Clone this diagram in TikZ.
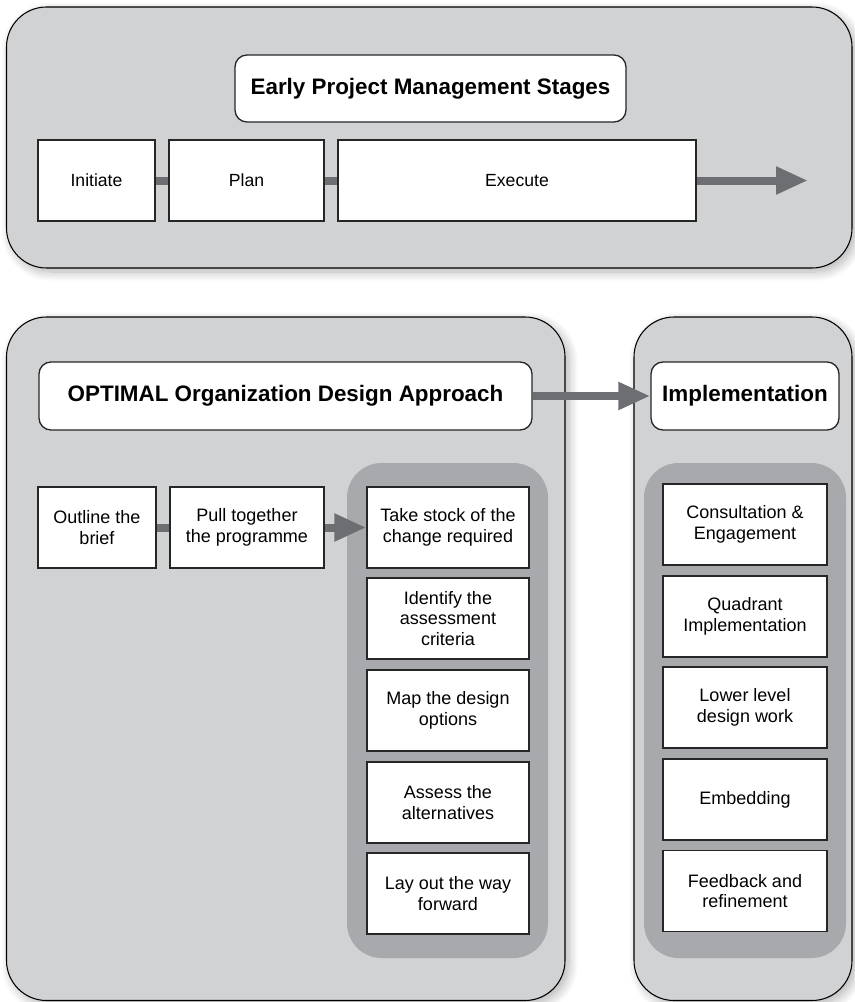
\documentclass[tikz,border=0pt]{standalone}
\usepackage{fontspec}
\setmainfont{Liberation Sans}
\usetikzlibrary{arrows.meta,shadows.blur}

\definecolor{panelgray}{HTML}{D1D2D4}
\definecolor{bandgray}{HTML}{A7A9AC}
\definecolor{flowgray}{HTML}{6D6E71}

\tikzset{
  panel/.style={fill=panelgray, draw=black, line width=0.8pt, rounded corners=30pt,
    blur shadow={shadow xshift=3pt, shadow yshift=-3pt, shadow blur radius=7pt,
      shadow blur steps=12, shadow opacity=30}},
  band/.style={fill=bandgray, rounded corners=26pt},
  plainbox/.style 2 args={draw=black!85, fill=white, line width=1pt,
    minimum width=#1*0.75pt, minimum height=#2*0.75pt, inner sep=0pt, align=center},
  titlebox/.style 2 args={plainbox={#1}{#2}, rounded corners=9pt,
    font=\bfseries\fontsize{16.8}{20}\selectfont},
  stagebox/.style 2 args={plainbox={#1}{#2}, font=\fontsize{13.2}{15.5}\selectfont},
  taskbox/.style 2 args={plainbox={#1}{#2}, font=\fontsize{13.5}{15.5}\selectfont},
  link/.style={draw=flowgray, line width=6pt},
  flow/.style={link, -{Triangle[length=24pt,width=19.5pt]}},
}

\begin{document}
\begin{tikzpicture}[x=0.75pt,y=-0.75pt]
\useasboundingbox (0,0) rectangle (854,1002);

% Project management stages
\path[panel] (6.5,7) rectangle (852,268);
\node[titlebox={391}{67}] (early) at (430.5,88.5) {Early Project Management Stages};
\node[stagebox={117}{81}] (init) at (96.5,180.5) {Initiate};
\node[stagebox={155}{81}] (plan) at (246.5,180.5) {Plan};
\node[stagebox={358}{81}] (exec) at (517,180.5) {Execute};
\coordinate (onward) at (808,180.5);
\draw[link] (init) -- (plan);
\draw[link] (plan) -- (exec);
\draw[flow] (exec) -- (onward);

% Design approach and implementation panels
\path[panel] (6.5,317) rectangle (565,1000.5);
\path[panel] (634,317) rectangle (852,1000.5);
\path[band] (347,463) rectangle (548,958);
\path[band] (644,463) rectangle (846,958);

\node[titlebox={493}{68}] (optimal) at (285.5,396) {OPTIMAL Organization Design Approach};
\node[titlebox={188}{68}] (impl) at (745,396) {Implementation};
\draw[flow] (optimal) -- (impl);

\node[taskbox={118}{81}] (outline) at (97,527.5) {Outline the\\brief};
\node[taskbox={154}{81}] (pull) at (247,527.5) {Pull together\\the programme};

\node[taskbox={162}{81}] (stock) at (448,527.5) {Take stock of the\\change required};
\node[taskbox={162}{81}] (criteria) at (448,618.5) {Identify the\\assessment\\criteria};
\node[taskbox={162}{81}] (options) at (448,710.5) {Map the design\\options};
\node[taskbox={162}{81}] (assess) at (448,802.5) {Assess the\\alternatives};
\node[taskbox={162}{81}] (forward) at (448,893.5) {Lay out the way\\forward};

\draw[link] (outline) -- (pull);
\draw[flow] (pull) -- (stock);

\node[taskbox={164}{81}] (consult) at (745,524.5) {Consultation \&\\Engagement};
\node[taskbox={164}{81}] (quadrant) at (745,616.5) {Quadrant\\Implementation};
\node[taskbox={164}{81}] (lower) at (745,707.5) {Lower level\\design work};
\node[taskbox={164}{81}] (embed) at (745,799.5) {Embedding};
\node[taskbox={164}{81}] (feedback) at (745,891) {Feedback and\\refinement};
\end{tikzpicture}
\end{document}
